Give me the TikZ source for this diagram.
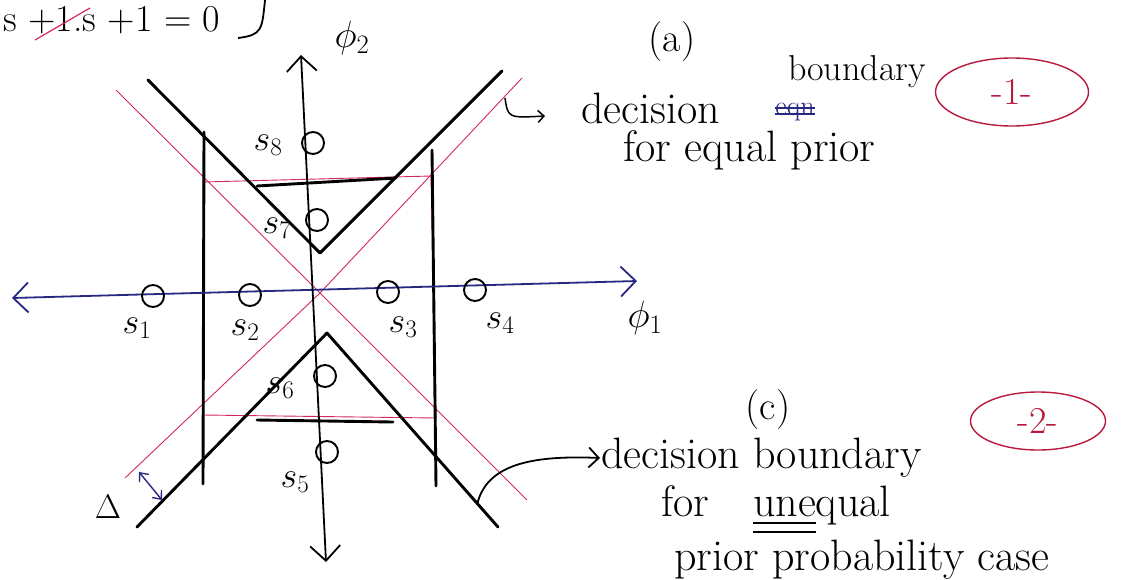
\RequirePackage{fix-cm}
\documentclass[tikz,border=0pt]{standalone}
\usepackage{amsmath,amssymb}
\usepackage{tikz}
\usetikzlibrary{arrows.meta,positioning,calc,shapes.geometric}
\newcommand{\hand}[1]{\fontsize{#1}{#1}\selectfont}
\definecolor{penred}{RGB}{210,40,90}
\definecolor{inkred}{RGB}{185,25,60}
\definecolor{penblue}{RGB}{40,40,130}

\begin{document}
\begin{tikzpicture}[x=1pt,y=-1pt,>={Straight Barb[length=15pt,width=30pt]},
    bnd/.style={line width=2.9pt,line cap=round,line join=round},
    redline/.style={penred,line width=0.9pt},
    sdot/.style={circle,draw,line width=1.9pt,minimum size=22pt,inner sep=0pt},
    slab/.style={font=\hand{36},inner sep=1pt},
    note/.style={font=\hand{44},inner sep=1pt},
    tag/.style={ellipse,draw=inkred,line width=1.4pt,text=inkred,font=\hand{38}}]
  \useasboundingbox (0,0) rectangle (1131,579);
  % s+1.s+1 = 0 at the top edge
  \node[note,font=\hand{38},anchor=base west] (eq) at (2,31) {s +1.s +1 = 0};
  \draw[penred,line width=1.2pt] (35,40) -- (90,8);
  \draw[line width=1.8pt] (265,0) .. controls (262,30) and (262,35) .. (238,38);
  % ---------- equal prior: red square and diagonals ----------
  \coordinate (O) at (320,293);
  \coordinate (q1) at (203,182); \coordinate (q2) at (431,176);
  \coordinate (q3) at (436,418); \coordinate (q4) at (203,415);
  \draw[redline] (q1) -- (q2) -- (q3) -- (q4) -- cycle;
  \draw[redline] (116,90) -- (O) -- (527,500);
  \draw[redline] (522,78) -- (O) -- (125,478);
  % ---------- unequal prior: black boundaries ----------
  \draw[bnd] (204,132) -- (203,484);
  \draw[bnd] (432,150) -- (436,486);
  \draw[bnd] (148,80) -- (320,253) -- (502,71);
  \draw[bnd] (257,186) -- (396,178);
  \draw[bnd] (137,527) -- (327,333) -- (498,527);
  \draw[bnd] (257,420) -- (393,422);
  % ---------- axes ----------
  \coordinate (xl) at (12,298); \coordinate (xr) at (637,281);
  \coordinate (yt) at (301,55);  \coordinate (yb) at (326,562);
  \draw[penblue,line width=1.8pt,<->] (xl) -- (xr);
  \draw[line width=1.8pt,<->] (yb) -- (yt);
  \node[font=\hand{38}] (phi1) at (645,318) {$\phi_1$};
  \node[font=\hand{38}] (phi2) at (352,38) {$\phi_2$};
  \foreach \i/\cx/\cy/\lx/\ly in {1/153/296/137/328,2/250/295/245/330,3/388/292/403/327,
      4/475/290/500/323,5/327/452/295/482,6/325/376/280/388,7/317/220/277/228,8/313/143/268/145}
    {\node[sdot] (s\i) at (\cx,\cy) {};
     \node[slab] (ls\i) at (\lx,\ly) {$s_{\i}$};}
  % distance between the two boundaries
  \coordinate (d1) at (139,472); \coordinate (d2) at (162,500);
  \draw[penblue,line width=1.4pt,{Straight Barb[length=7pt,width=12pt]}-{Straight Barb[length=7pt,width=12pt]}] (d1) -- (d2);
  \node[font=\hand{34}] (dl) at (108,507) {$\Delta$};
  % ---------- notes: (a) ----------
  \node[note,font=\hand{40}] (na) at (672,42) {(a)};
  \node[note,font=\hand{36}] (bd) at (857,72) {boundary};
  \node[note,anchor=west] (dec) at (580,108) {decision};
  \node[penblue,font=\hand{28},inner sep=0pt] (scr) at (795,112) {eqn};
  \draw[penblue,line width=1.5pt] ([yshift=4pt]scr.west) -- ([yshift=4pt]scr.east);
  \draw[penblue,line width=1.5pt] ([yshift=-2pt]scr.west) -- ([yshift=-2pt]scr.east);
  \node[note,anchor=west] (eqp) at (622,150) {for equal prior};
  \node[tag,minimum width=153pt,minimum height=68pt] (t1) at (1012,92) {-1-};
  \coordinate (h0) at (505,98); \coordinate (h1) at (545,116);
  \draw[line width=1.5pt,-{Straight Barb[length=6pt,width=12pt]}] (h0) .. controls (508,118) .. (h1);
  % ---------- notes: (c) ----------
  \node[note,font=\hand{40}] (nc) at (768,410) {(c)};
  \node[note,anchor=west] (dc) at (600,458) {decision boundary};
  \node[note,anchor=west] (fu) at (660,510) {for\quad\underline{\underline{une}}qual};
  \node[note,anchor=west] (pp) at (673,560) {prior probability case};
  \node[tag,minimum width=135pt,minimum height=58pt] (t2) at (1038,421) {-2-};
  \coordinate (tail) at (477,505);
  \draw[line width=1.8pt,-{Straight Barb[length=10pt,width=20pt]}] (tail) .. controls (486,465) and (530,455) .. (dc.west);
\end{tikzpicture}
\end{document}
